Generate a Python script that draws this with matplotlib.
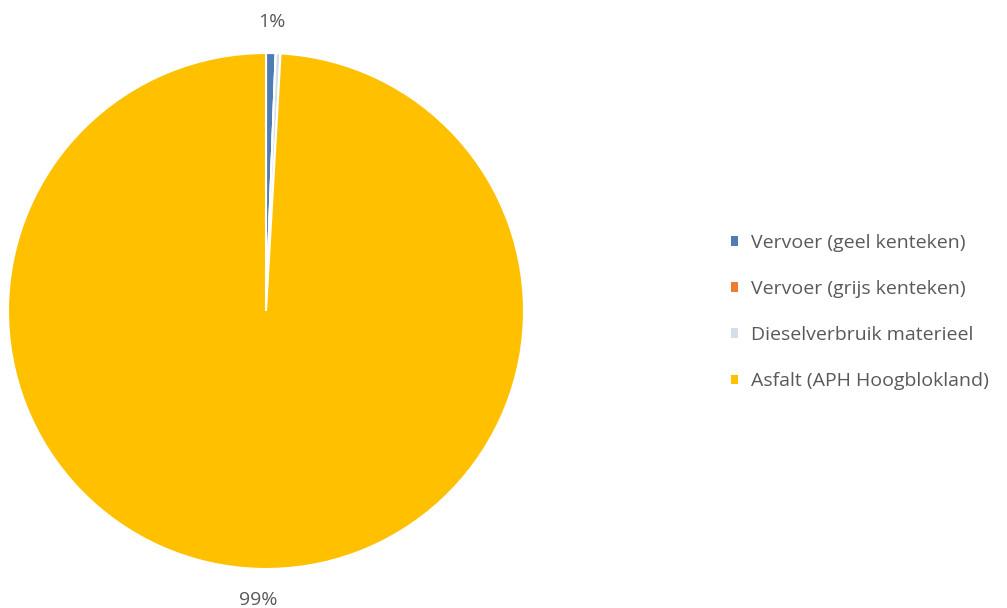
import matplotlib.pyplot as plt
from matplotlib.patches import Patch
import numpy as np

categories = ["Vervoer (geel kenteken)", "Vervoer (grijs kenteken)",
              "Dieselverbruik materieel", "Asfalt (APH Hoogblokland)"]
shares = [0.6, 0.0, 0.3, 99.1]
colors = ["#4E7DB3", "#ED7D31", "#D6DEEA", "#FFC000"]
# only these slices carry a percentage label
labelled = [0, 3]

plt.rcParams['font.family'] = ['Open Sans', 'DejaVu Sans']
text_color = "#595959"

fig = plt.figure(figsize=(10.07, 6.08), dpi=100)
ax = fig.add_axes([8 / 1007, 39 / 608, 516 / 1007, 516 / 608])
wedges, _ = ax.pie(shares, colors=colors, startangle=90, counterclock=False,
                   radius=1, wedgeprops=dict(edgecolor="white", linewidth=1.5))
ax.set_xlim(-1, 1)
ax.set_ylim(-1, 1)
ax.set_aspect("equal")
ax.axis("off")

total = sum(shares)
for i in labelled:
    w = wedges[i]
    mid = np.deg2rad((w.theta1 + w.theta2) / 2)
    pct = shares[i] / total * 100
    ax.text(1.12 * np.cos(mid), 1.12 * np.sin(mid), "%d%%" % int(pct + 0.5),
            ha="center", va="center", fontsize=14, color=text_color)

handles = [Patch(facecolor=c, edgecolor="none") for c in colors]
fig.legend(handles, categories, loc="center left",
           bbox_to_anchor=(731 / 1007, (608 - 312) / 608), frameon=False,
           borderpad=0, borderaxespad=0,
           fontsize=14, labelcolor=text_color, handlelength=0.38,
           handleheight=0.38, handletextpad=0.65, labelspacing=1.45)

fig.savefig("out.png", dpi=100)
